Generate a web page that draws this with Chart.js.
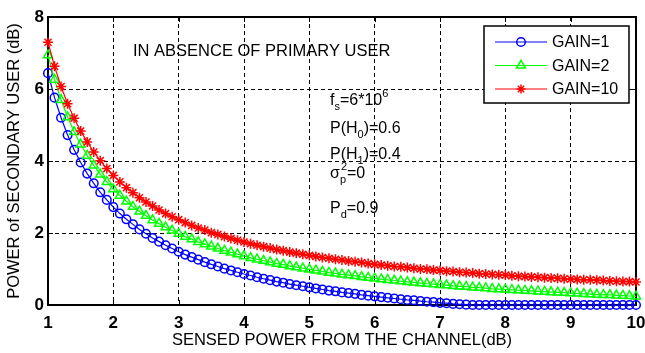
<!DOCTYPE html>
<html>
<head>
<meta charset="utf-8">
<script src="https://cdn.jsdelivr.net/npm/chart.js@4.4.0/dist/chart.umd.min.js"></script>
<style>
  html, body { margin: 0; padding: 0; background: #fff; }
</style>
</head>
<body>
<canvas id="myChart" width="645" height="353"></canvas>
<script>
// sensed power (dB), one sample every 0.1 dB
const sensedPower = [
  1.0, 1.1, 1.2, 1.3, 1.4, 1.5, 1.6, 1.7, 1.8, 1.9,
  2.0, 2.1, 2.2, 2.3, 2.4, 2.5, 2.6, 2.7, 2.8, 2.9,
  3.0, 3.1, 3.2, 3.3, 3.4, 3.5, 3.6, 3.7, 3.8, 3.9,
  4.0, 4.1, 4.2, 4.3, 4.4, 4.5, 4.6, 4.7, 4.8, 4.9,
  5.0, 5.1, 5.2, 5.3, 5.4, 5.5, 5.6, 5.7, 5.8, 5.9,
  6.0, 6.1, 6.2, 6.3, 6.4, 6.5, 6.6, 6.7, 6.8, 6.9,
  7.0, 7.1, 7.2, 7.3, 7.4, 7.5, 7.6, 7.7, 7.8, 7.9,
  8.0, 8.1, 8.2, 8.3, 8.4, 8.5, 8.6, 8.7, 8.8, 8.9,
  9.0, 9.1, 9.2, 9.3, 9.4, 9.5, 9.6, 9.7, 9.8, 9.9,
  10.0
];

// power of secondary user (dB)
const gain1 = [
  6.44, 5.76, 5.20, 4.72, 4.31, 3.96, 3.65, 3.38, 3.13, 2.92,
  2.72, 2.54, 2.38, 2.24, 2.10, 1.98, 1.86, 1.76, 1.66, 1.57,
  1.48, 1.40, 1.33, 1.26, 1.19, 1.13, 1.07, 1.01, 0.96, 0.91,
  0.86, 0.82, 0.77, 0.73, 0.69, 0.65, 0.62, 0.58, 0.55, 0.52,
  0.49, 0.46, 0.43, 0.40, 0.38, 0.35, 0.33, 0.31, 0.28, 0.26,
  0.24, 0.22, 0.20, 0.18, 0.16, 0.14, 0.13, 0.11, 0.09, 0.08,
  0.06, 0.05, 0.03, 0.02, 0.01, 0.00, 0.00, 0.00, 0.00, 0.00,
  0.00, 0.00, 0.00, 0.00, 0.00, 0.00, 0.00, 0.00, 0.00, 0.00,
  0.00, 0.00, 0.00, 0.00, 0.00, 0.00, 0.00, 0.00, 0.00, 0.00,
  0.00
];
const gain2 = [
  6.94, 6.26, 5.70, 5.22, 4.81, 4.46, 4.15, 3.88, 3.63, 3.42,
  3.22, 3.04, 2.88, 2.73, 2.60, 2.48, 2.36, 2.26, 2.16, 2.07,
  1.98, 1.90, 1.83, 1.75, 1.69, 1.63, 1.57, 1.51, 1.46, 1.41,
  1.36, 1.31, 1.27, 1.23, 1.19, 1.15, 1.12, 1.08, 1.05, 1.02,
  0.99, 0.96, 0.93, 0.90, 0.88, 0.85, 0.83, 0.81, 0.78, 0.76,
  0.74, 0.72, 0.70, 0.68, 0.66, 0.64, 0.63, 0.61, 0.59, 0.58,
  0.56, 0.55, 0.53, 0.52, 0.51, 0.49, 0.48, 0.47, 0.45, 0.44,
  0.43, 0.42, 0.41, 0.40, 0.39, 0.38, 0.37, 0.36, 0.35, 0.34,
  0.33, 0.32, 0.31, 0.30, 0.29, 0.28, 0.28, 0.27, 0.26, 0.25,
  0.24
];
const gain10 = [
  7.30, 6.63, 6.07, 5.59, 5.19, 4.83, 4.53, 4.25, 4.01, 3.79,
  3.60, 3.42, 3.26, 3.12, 2.98, 2.86, 2.75, 2.64, 2.54, 2.45,
  2.37, 2.29, 2.21, 2.14, 2.08, 2.01, 1.96, 1.90, 1.85, 1.80,
  1.75, 1.70, 1.66, 1.62, 1.58, 1.54, 1.51, 1.47, 1.44, 1.41,
  1.38, 1.35, 1.32, 1.30, 1.27, 1.25, 1.22, 1.20, 1.18, 1.15,
  1.13, 1.11, 1.09, 1.07, 1.06, 1.04, 1.02, 1.00, 0.99, 0.97,
  0.96, 0.94, 0.93, 0.91, 0.90, 0.89, 0.87, 0.86, 0.85, 0.84,
  0.83, 0.81, 0.80, 0.79, 0.78, 0.77, 0.76, 0.75, 0.74, 0.73,
  0.72, 0.71, 0.70, 0.70, 0.69, 0.68, 0.67, 0.66, 0.65, 0.65,
  0.64
];

const seriesNames = ['GAIN=1', 'GAIN=2', 'GAIN=10'];
const xTicks = [1, 2, 3, 4, 5, 6, 7, 8, 9, 10];
const yTicks = [0, 2, 4, 6, 8];

const FONT = "Arial, 'Liberation Sans', sans-serif";

function toPoints(values) {
  return values.map((v, i) => ({ x: sensedPower[i], y: v }));
}

// text with sub/superscripts: plain strings, or [text, 'sub'|'sup'] or [sub, 'both', sup]
function drawRich(ctx, parts, x, y) {
  let cx = x;
  parts.forEach(p => {
    if (typeof p === 'string') {
      ctx.font = '16px ' + FONT;
      ctx.fillText(p, cx, y);
      cx += ctx.measureText(p).width;
    } else if (p[1] === 'both') {
      ctx.font = '11px ' + FONT;
      ctx.fillText(p[0], cx, y + 5);
      ctx.fillText(p[2], cx + 1, y - 8);
      cx += Math.max(ctx.measureText(p[0]).width, ctx.measureText(p[2]).width + 1);
    } else {
      ctx.font = '11px ' + FONT;
      ctx.fillText(p[0], cx, p[1] === 'sub' ? y + 5 : y - 8);
      cx += ctx.measureText(p[0]).width;
    }
  });
}

const matlabBox = {
  id: 'matlabBox',
  beforeDatasetsDraw(chart) {
    const { ctx, chartArea: a, scales } = chart;
    ctx.save();
    ctx.strokeStyle = '#000';
    ctx.lineWidth = 1;
    // inward tick marks on all four sides
    ctx.beginPath();
    xTicks.forEach(t => {
      const px = Math.round(scales.x.getPixelForValue(t)) + 0.5;
      ctx.moveTo(px, a.bottom); ctx.lineTo(px, a.bottom - 5);
      ctx.moveTo(px, a.top); ctx.lineTo(px, a.top + 5);
    });
    yTicks.forEach(t => {
      const py = Math.round(scales.y.getPixelForValue(t)) + 0.5;
      ctx.moveTo(a.left, py); ctx.lineTo(a.left + 5, py);
      ctx.moveTo(a.right, py); ctx.lineTo(a.right - 5, py);
    });
    ctx.stroke();
    ctx.lineWidth = 2;
    ctx.strokeRect(a.left, a.top, a.right - a.left, a.bottom - a.top);
    ctx.restore();
  },
  afterDraw(chart) {
    const { ctx } = chart;
    ctx.save();
    ctx.fillStyle = '#000';
    ctx.textBaseline = 'alphabetic';
    ctx.textAlign = 'left';

    // annotations
    ctx.font = '16.5px ' + FONT;
    ctx.fillText('IN ABSENCE OF PRIMARY USER', 133, 56);
    drawRich(ctx, ['f', ['s', 'sub'], '=6*10', ['6', 'sup']], 330, 105);
    drawRich(ctx, ['P(H', ['0', 'sub'], ')=0.6'], 330, 133);
    drawRich(ctx, ['P(H', ['1', 'sub'], ')=0.4'], 330, 159);
    drawRich(ctx, ['\u03C3', ['p', 'both', '2'], '=0'], 330, 178);
    drawRich(ctx, ['P', ['d', 'sub'], '=0.9'], 330, 213);

    // legend box
    const lx = 484, ly = 26, lw = 145, lh = 77;
    ctx.fillStyle = '#fff';
    ctx.fillRect(lx, ly, lw, lh);
    ctx.strokeStyle = '#000';
    ctx.lineWidth = 1.5;
    ctx.strokeRect(lx, ly, lw, lh);
    chart.data.datasets.forEach((ds, i) => {
      const ry = 42 + i * 23.5;
      ctx.strokeStyle = ds.borderColor;
      ctx.lineWidth = 1;
      ctx.beginPath();
      ctx.moveTo(495, ry); ctx.lineTo(547, ry);
      ctx.stroke();
      ctx.lineWidth = 1.5;
      ctx.fillStyle = 'rgba(0,0,0,0)';
      Chart.helpers.drawPoint(ctx, {
        pointStyle: ds.pointStyle, radius: ds.pointStyle === 'star' ? 4.5 : ds.pointRadius,
        rotation: 0, borderWidth: 1.2
      }, 521, ry);
      ctx.fillStyle = '#000';
      ctx.font = '16px ' + FONT;
      ctx.textBaseline = 'middle';
      ctx.fillText(ds.label, 552, ry + 1);
      ctx.textBaseline = 'alphabetic';
    });
    ctx.restore();
  }
};

const ctx = document.getElementById('myChart');
const myChart = new Chart(ctx, {
  type: 'line',
  data: {
    datasets: [
      {
        label: seriesNames[0],
        data: toPoints(gain1),
        borderColor: '#0000FF',
        backgroundColor: 'rgba(0,0,0,0)',
        pointStyle: 'circle',
        pointRadius: 4.3,
        order: 3
      },
      {
        label: seriesNames[1],
        data: toPoints(gain2),
        borderColor: '#00FF00',
        backgroundColor: 'rgba(0,0,0,0)',
        pointStyle: 'triangle',
        pointRadius: 5.2,
        order: 2
      },
      {
        label: seriesNames[2],
        data: toPoints(gain10),
        borderColor: '#FF0000',
        backgroundColor: 'rgba(0,0,0,0)',
        pointStyle: 'star',
        pointRadius: 5,
        order: 1
      }
    ]
  },
  options: {
    responsive: false,
    animation: false,
    devicePixelRatio: 1,
    layout: { padding: { top: 17, right: 9, left: 0, bottom: 0 } },
    elements: {
      line: { borderWidth: 1.2, tension: 0, fill: false },
      point: { borderWidth: 1.5, hoverRadius: 4 }
    },
    datasets: { line: { clip: false } },
    plugins: {
      legend: { display: false },
      tooltip: { enabled: false }
    },
    scales: {
      x: {
        type: 'linear',
        min: 1,
        max: 10,
        afterBuildTicks: s => { s.ticks = xTicks.map(v => ({ value: v })); },
        afterFit: s => { s.height = 48; s.paddingLeft = 0; s.paddingRight = 0; },
        ticks: {
          color: '#000',
          padding: 8,
          font: { family: FONT, size: 17, weight: 'bold' }
        },
        grid: { color: '#000', lineWidth: 1, drawTicks: false },
        border: { display: false, dash: [4, 3] },
        title: {
          display: true,
          text: 'SENSED POWER FROM THE CHANNEL(dB)',
          color: '#000',
          font: { family: FONT, size: 16.5 },
          padding: { top: 0, bottom: 3 }
        }
      },
      y: {
        min: 0,
        max: 8,
        afterBuildTicks: s => { s.ticks = yTicks.map(v => ({ value: v })); },
        afterFit: s => { s.width = 48; s.paddingTop = 0; s.paddingBottom = 0; },
        ticks: {
          color: '#000',
          padding: 4,
          font: { family: FONT, size: 17, weight: 'bold' }
        },
        grid: { color: '#000', lineWidth: 1, drawTicks: false },
        border: { display: false, dash: [4, 3] },
        title: {
          display: true,
          text: 'POWER of SECONDARY USER (dB)',
          color: '#000',
          font: { family: FONT, size: 16.5 },
          padding: { top: 5, bottom: 0 }
        }
      }
    }
  },
  plugins: [matlabBox]
});
</script>
</body>
</html>
